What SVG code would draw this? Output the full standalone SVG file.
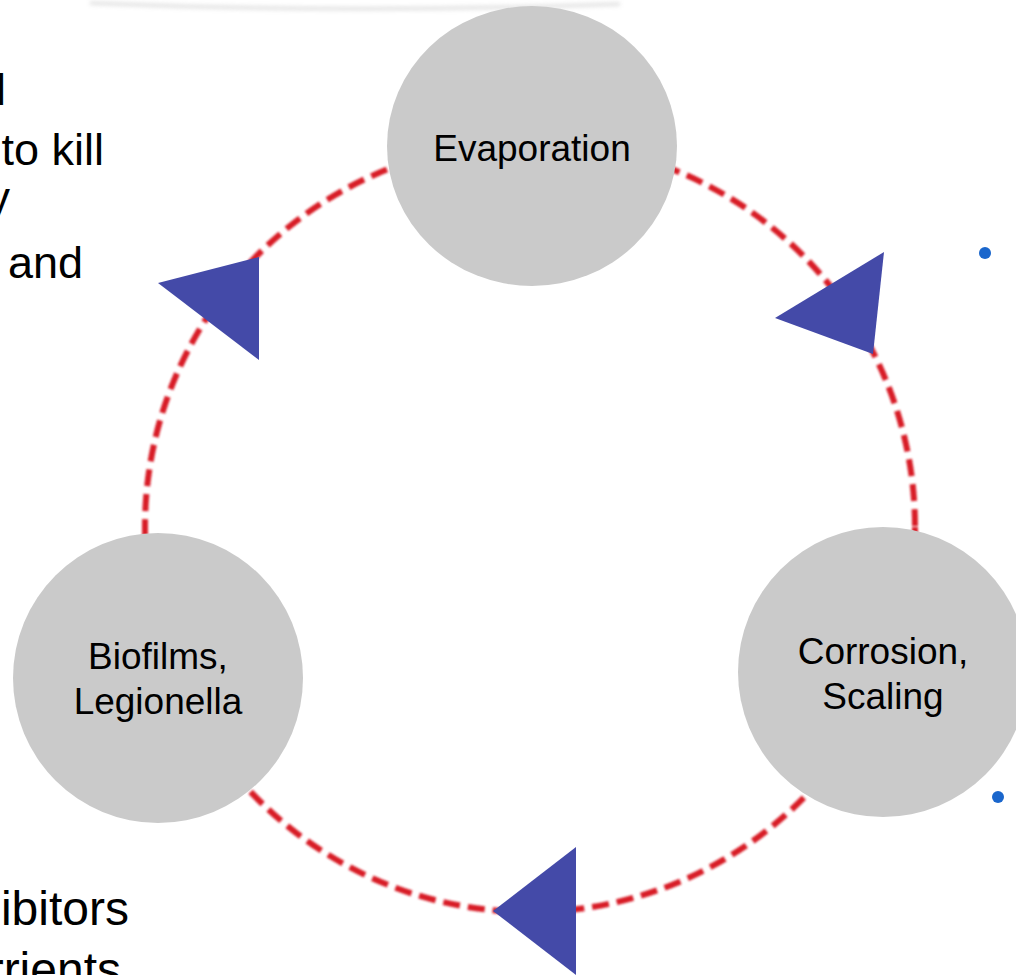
<svg xmlns="http://www.w3.org/2000/svg" width="1016" height="975" viewBox="0 0 1016 975">
<defs>
<style>
.node{fill:#cacaca}
.lbl{font-family:"Liberation Sans",Arial,sans-serif;font-size:37px;fill:#000;text-anchor:middle}
.side{font-family:"Liberation Sans",Arial,sans-serif;font-size:45px;fill:#000;text-anchor:end}
.side2{font-family:"Liberation Sans",Arial,sans-serif;font-size:48px;fill:#000;text-anchor:end}
.ring{fill:none;stroke:#d81c26;stroke-width:6;stroke-dasharray:17 8;filter:url(#soft)}
.arrow{fill:#444aa8}
.dot{fill:#1a66cc}
</style>
<filter id="soft" x="-5%" y="-5%" width="110%" height="110%"><feGaussianBlur stdDeviation="0.8"/></filter>
<filter id="shadow" x="-10%" y="-200%" width="120%" height="500%"><feGaussianBlur stdDeviation="2"/></filter>
</defs>
<rect width="1016" height="975" fill="#fff"/>
<path d="M 90 3 Q 350 14 620 4" fill="none" stroke="#c4c4c4" stroke-width="3" opacity="0.6" filter="url(#shadow)"/>
<g id="side-text">
<text class="side" x="6" y="105">l</text>
<text class="side" x="104" y="165">to kill</text>
<text class="side" x="10" y="213">y</text>
<text class="side" x="83" y="278">and</text>
<text class="side2" x="129" y="925">ibitors</text>
<text class="side2" x="121" y="986">rrients</text>
<circle class="dot" cx="985" cy="253" r="6"/>
<circle class="dot" cx="998" cy="797" r="6"/>
</g>
<g id="connectors">
<circle class="ring" cx="530" cy="527" r="385"/>
<polygon class="arrow" points="158,283 259,257 259,360"/>
<polygon class="arrow" points="775,318 884,252 873,354"/>
<polygon class="arrow" points="493,911 576,847 576,975"/>
</g>
<g id="node-evaporation">
<ellipse class="node" cx="532" cy="146" rx="145" ry="140"/>
<text class="lbl" x="532" y="161">Evaporation</text>
</g>
<g id="node-biofilms">
<circle class="node" cx="158" cy="678" r="145"/>
<text class="lbl" x="158" y="669">Biofilms,</text>
<text class="lbl" x="158" y="714">Legionella</text>
</g>
<g id="node-corrosion">
<circle class="node" cx="883" cy="672" r="145"/>
<text class="lbl" x="883" y="664">Corrosion,</text>
<text class="lbl" x="883" y="709">Scaling</text>
</g>
</svg>
